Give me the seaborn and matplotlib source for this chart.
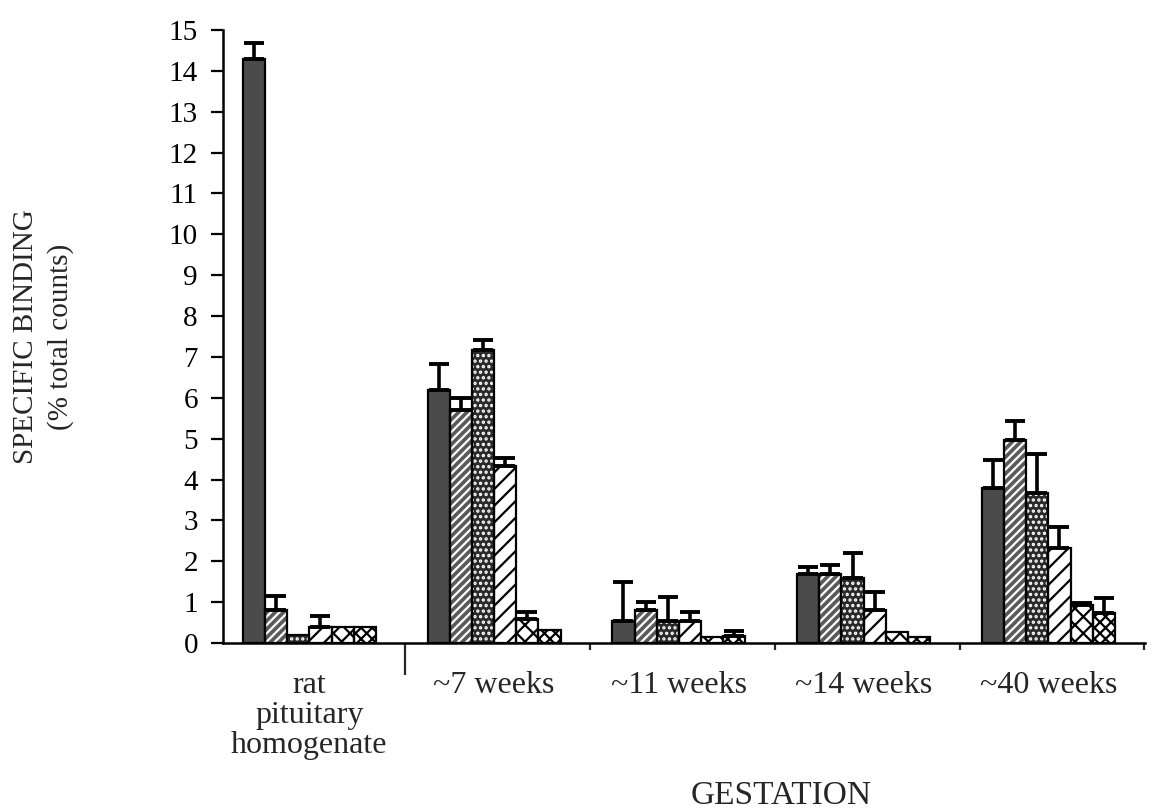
import matplotlib
matplotlib.use("Agg")
import matplotlib.pyplot as plt
from matplotlib.patches import Rectangle
import numpy as np
import pandas as pd
import seaborn as sns

# Categories along the x axis
groups = ["rat\npituitary\nhomogenate", "~7 weeks", "~11 weeks", "~14 weeks", "~40 weeks"]
series = ["s1", "s2", "s3", "s4", "s5", "s6"]

# Bar heights (specific binding, % total counts), one list per bar series
s1 = [14.3, 6.2, 0.55, 1.7, 3.8]
s2 = [0.8, 5.7, 0.8, 1.7, 4.97]
s3 = [0.2, 7.18, 0.55, 1.6, 3.67]
s4 = [0.4, 4.32, 0.55, 0.8, 2.33]
s5 = [0.4, 0.58, 0.15, 0.27, 0.93]
s6 = [0.4, 0.32, 0.16, 0.15, 0.74]

# Upper error bars (0 = no error bar drawn)
e1 = [0.37, 0.62, 0.95, 0.15, 0.67]
e2 = [0.35, 0.3, 0.2, 0.2, 0.47]
e3 = [0.0, 0.23, 0.58, 0.6, 0.95]
e4 = [0.25, 0.2, 0.22, 0.45, 0.5]
e5 = [0.0, 0.17, 0.0, 0.0, 0.05]
e6 = [0.0, 0.0, 0.14, 0.0, 0.36]

values = [s1, s2, s3, s4, s5, s6]
errors = [e1, e2, e3, e4, e5, e6]

rows = []
for name, vals, errs in zip(series, values, errors):
    for g, v, e in zip(groups, vals, errs):
        rows.append({"group": g, "series": name, "value": v, "err": e})
df = pd.DataFrame(rows)

sns.set_style("ticks")
plt.rcParams["font.family"] = ["Liberation Serif", "DejaVu Serif"]
plt.rcParams["hatch.linewidth"] = 1.6

# Fill / hatch style of each series
face_colors = ["#4b4b4b", "#5a5a5a", "#2a2a2a", "white", "white", "white"]
hatches = ["", "////", "...", "//", "xx", "xxx"]
hatch_colors = ["#4b4b4b", "white", "white", "black", "black", "black"]

fig = plt.figure(figsize=(11.51, 8.09), dpi=100)
ax = fig.add_axes([0.1937, 0.2052, 0.8011, 0.7577])

sns.barplot(data=df, x="group", y="value", hue="series", order=groups,
            hue_order=series, palette=face_colors, width=0.72, gap=0,
            errorbar=None, legend=False, ax=ax)

bar_containers = list(ax.containers)
for i, cont in enumerate(bar_containers):
    xs, tops, ups = [], [], []
    for j, p in enumerate(cont.patches):
        p.set_facecolor(face_colors[i])
        p.set_hatch(hatches[i])
        p.set_edgecolor(hatch_colors[i])
        p.set_linewidth(0)
        # black outline on top of hatched bar
        ax.add_patch(Rectangle(p.get_xy(), p.get_width(), p.get_height(),
                               fill=False, edgecolor="black", linewidth=1.6,
                               zorder=p.get_zorder() + 0.1))
        err = errors[i][j]
        if err > 0:
            xs.append(p.get_x() + p.get_width() / 2)
            tops.append(p.get_height())
            ups.append(err)
    if xs:
        ax.errorbar(xs, tops, yerr=[np.zeros(len(ups)), ups], fmt="none",
                    ecolor="black", elinewidth=2.6, capsize=7, capthick=2.8,
                    zorder=5)

ax.set_ylim(0, 15)
ax.set_xlim(-0.468, 4.523)
ax.set_yticks(range(0, 16))
ax.tick_params(axis="y", direction="out", length=9, width=1.6, pad=9,
               labelsize=21, colors="black")
ax.tick_params(axis="x", which="major", length=0, pad=20, labelsize=23)
for lab in ax.get_xticklabels():
    lab.set_linespacing(1.05)

# group separator ticks below the x axis
ax.set_xticks([k + 0.52 for k in range(len(groups))], minor=True)
ax.tick_params(axis="x", which="minor", direction="out", length=5, width=1.6)
minor_ticks = ax.xaxis.get_minor_ticks()
minor_ticks[0].tick1line.set_markersize(23)

sns.despine(ax=ax)
for side in ["left", "bottom"]:
    ax.spines[side].set_linewidth(1.8)
    ax.spines[side].set_color("black")

ax.set_ylabel("SPECIFIC BINDING\n(% total counts)", fontsize=21, labelpad=68,
              linespacing=1.4)
ax.set_xlabel("GESTATION", fontsize=24, va="baseline")
ax.xaxis.set_label_coords(0.605, -0.262)

plt.savefig("out.png", dpi=100)
